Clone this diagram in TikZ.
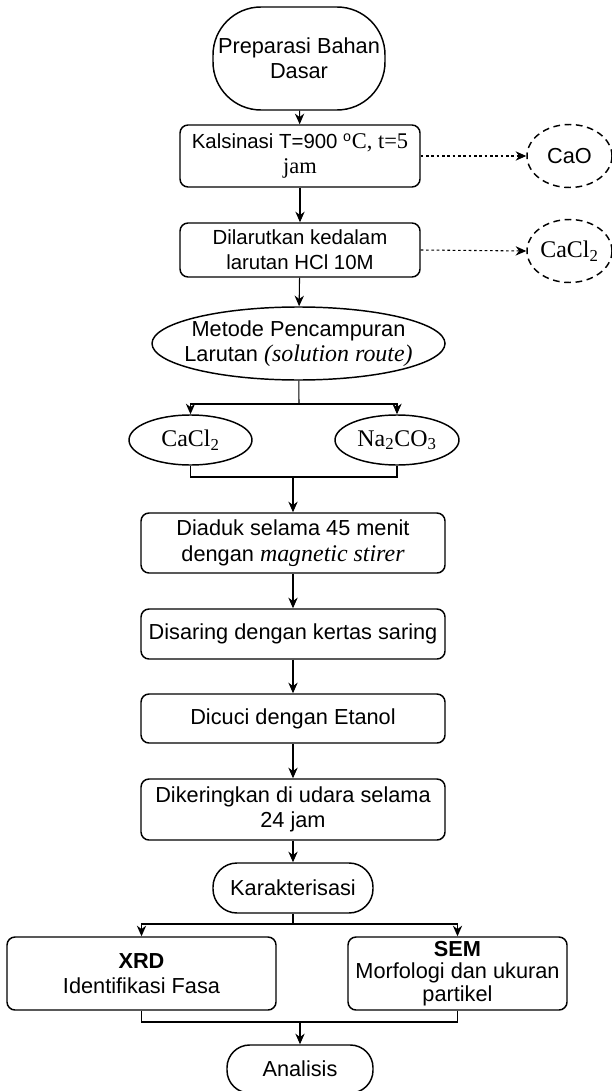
\documentclass[tikz,border=0pt]{standalone}
\usepackage{fontspec}
\setmainfont{Liberation Sans}
\newfontfamily\tnr[Scale=1.1]{Liberation Serif}
\usetikzlibrary{positioning,arrows.meta,shapes.geometric}

\begin{document}
\begin{tikzpicture}[x=0.75pt, y=-0.75pt,
					font=\fontsize{16.3}{19}\selectfont
					]
					\tikzset{
						procbox/.style={
							draw,
							line width=1.1pt,
							rounded corners=6pt,
							align=center,
							inner sep=0pt
						},
						termnode/.style={
							draw,
							line width=1.1pt,
							align=center,
							inner sep=0pt
						},
						ovalnode/.style={
							shape=ellipse,
							draw,
							line width=1.1pt,
							align=center,
							inner sep=0pt
						},
						hasilnode/.style={
							ovalnode,
							dash pattern=on 5pt off 3.5pt
						},
						panah/.style={-{Stealth[length=8pt,width=7pt]}, line width=0.8pt},
						garis/.style={line width=0.8pt},
						panahputus/.style={panah, dash pattern=on 2pt off 2pt}
					}
					\useasboundingbox (0,0) rectangle (611,1091);
					
					% alur utama
					\node[termnode, minimum width=129pt, minimum height=77.25pt, rounded corners=36pt] (prep) at (299,58.5) {Preparasi Bahan\\Dasar};
					\node[procbox, minimum width=180pt, minimum height=46.5pt, font=\fontsize{15.3}{19}\selectfont] (kal) at (300,156) {Kalsinasi T=900 \textsuperscript{o}{\tnr C, t=5}\\{\tnr jam}};
					\node[procbox, minimum width=180pt, minimum height=40.5pt, font=\fontsize{15.3}{19}\selectfont] (larut) at (300,250) {Dilarutkan kedalam\\larutan HCl 10M};
					\node[hasilnode, minimum width=63.75pt, minimum height=47.25pt] (cao) at (569.5,156) {CaO};
					\node[hasilnode, minimum width=63.75pt, minimum height=47.25pt] (caclA) at (569.5,251) {{\tnr CaCl\textsubscript{2}}};
					\node[ovalnode, minimum width=219.75pt, minimum height=54.75pt, inner xsep=-12pt] (metode) at (298.5,343.5) {Metode Pencampuran\\Larutan {\tnr\itshape (solution route)}};
					\node[ovalnode, minimum width=92.25pt, minimum height=37.5pt] (caclB) at (190.5,440) {{\tnr CaCl\textsubscript{2}}};
					\node[ovalnode, minimum width=93pt, minimum height=37.5pt] (naco) at (397,440) {{\tnr Na\textsubscript{2}CO\textsubscript{3}}};
					\node[procbox, minimum width=228pt, minimum height=45pt] (aduk) at (293,543) {Diaduk selama 45 menit\\dengan {\tnr\itshape magnetic stirer}};
					\node[procbox, minimum width=228pt, minimum height=37.5pt] (saring) at (293,634) {Disaring dengan kertas saring};
					\node[procbox, minimum width=228pt, minimum height=36.75pt] (cuci) at (293,718.5) {Dicuci dengan Etanol};
					\node[procbox, minimum width=228pt, minimum height=45.75pt] (kering) at (293,809.5) {Dikeringkan di udara selama\\24 jam};
					\node[termnode, minimum width=120pt, minimum height=37.5pt, rounded corners=18pt] (karak) at (293,888) {Karakterisasi};
					\node[procbox, minimum width=201.75pt, minimum height=54.75pt] (xrd) at (141.5,973.5) {\textbf{XRD}\\Identifikasi Fasa};
					\node[procbox, minimum width=164.25pt, minimum height=54.75pt] (sem) at (457.5,973.5) {\textbf{SEM}\\[-2.5pt]Morfologi dan ukuran\\[-2pt]partikel};
					\node[termnode, minimum width=109.5pt, minimum height=36pt, rounded corners=17pt] (anal) at (300,1069) {Analisis};
					
					\coordinate (pisah1) at (299,404);
					\coordinate (gabung1) at (293,477);
					\coordinate (pisah2) at (293,924);
					\coordinate (gabung2) at (300,1022);
					
					\draw[panah] (prep) -- (kal);
					\draw[panah] (kal) -- (larut);
					\draw[panah] (larut) -- (metode);
					\draw[panahputus] (kal) -- (cao);
					\draw[panahputus] (larut.east) -- (caclA.west);
					\draw[garis] (metode) -- (pisah1);
					\draw[panah] (pisah1) -| (caclB.north);
					\draw[panah] (pisah1) -| (naco.north);
					\draw[garis] (caclB) |- (gabung1);
					\draw[garis] (naco) |- (gabung1);
					\draw[panah] (gabung1) -- (aduk);
					\draw[panah] (aduk) -- (saring);
					\draw[panah] (saring) -- (cuci);
					\draw[panah] (cuci) -- (kering);
					\draw[panah] (kering) -- (karak);
					\draw[garis] (karak) -- (pisah2);
					\draw[panah] (pisah2) -| (xrd.north);
					\draw[panah] (pisah2) -| (sem.north);
					\draw[garis] (xrd) |- (gabung2);
					\draw[garis] (sem) |- (gabung2);
					\draw[panah] (gabung2) -- (anal);
				\end{tikzpicture}
\end{document}
